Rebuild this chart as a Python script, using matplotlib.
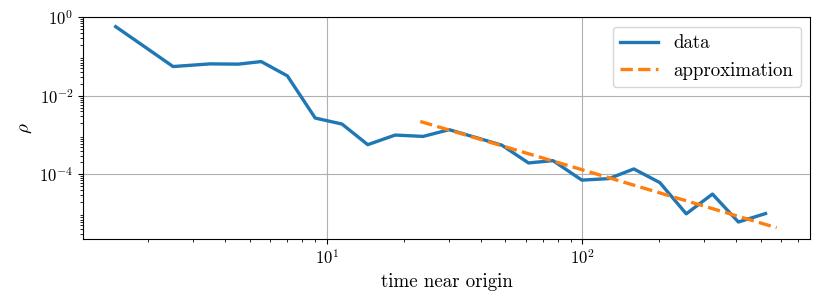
import matplotlib
matplotlib.use("Agg")
import matplotlib.pyplot as plt
import numpy as np

plt.rcParams["font.family"] = "serif"
plt.rcParams["font.serif"] = ["cmr10"]
plt.rcParams["mathtext.fontset"] = "cm"
plt.rcParams["axes.formatter.use_mathtext"] = True
plt.rcParams["font.size"] = 13.6
plt.rcParams["xtick.labelsize"] = 12
plt.rcParams["ytick.labelsize"] = 12

# data
t = [1.49, 2.5, 3.49, 4.5, 5.53, 7.0, 9.0, 11.45, 14.45, 18.5, 23.8, 30.1,
     38.0, 48.4, 61.5, 76.7, 99.5, 127, 159, 201, 255, 323, 408, 521]
rho = [0.577, 0.0556, 0.065, 0.064, 0.0744, 0.0322, 2.71e-3, 1.91e-3, 5.69e-4,
       1.0e-3, 9.24e-4, 1.37e-3, 8.8e-4, 5.52e-4, 1.95e-4, 2.23e-4, 7.12e-5,
       7.78e-5, 1.37e-4, 6.15e-5, 9.86e-6, 3.14e-5, 6.1e-6, 1.0e-5]

# approximation line endpoints
t_fit = [23.2, 576]
rho_fit = [2.22e-3, 4.35e-6]

fig = plt.figure(figsize=(8.22, 3.03), dpi=100)
ax = fig.add_axes([0.101, 0.2122, 0.8844, 0.7308])

ax.plot(t, rho, color="C0", lw=2.4, label="data")
ax.plot(t_fit, rho_fit, color="C1", lw=2.4, ls="--", label="approximation")

ax.set_xscale("log")
ax.set_yscale("log")
ax.set_xlim(1.11, 778)
ax.set_ylim(10**-5.64, 1.0)
ax.set_yticks([1e0, 1e-2, 1e-4])
ax.grid(True, which="major", color="#b0b0b0", lw=0.8)

ax.set_xlabel("time near origin")
ax.set_ylabel(r"$\rho$")
ax.legend(loc="upper right")

fig.savefig("out.png", dpi=100)
